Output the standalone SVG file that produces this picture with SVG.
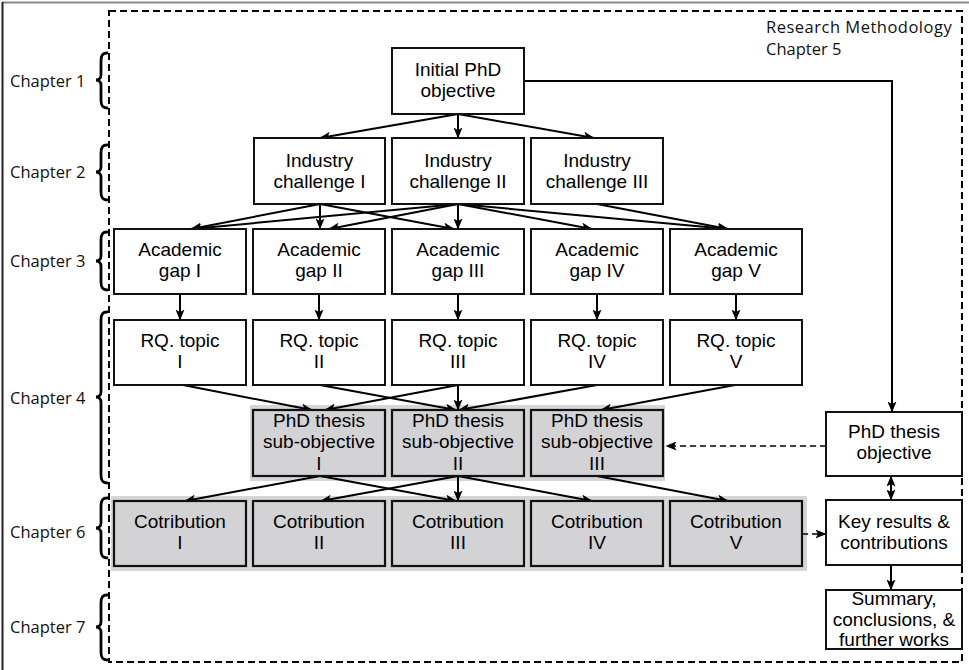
<svg xmlns="http://www.w3.org/2000/svg" width="969" height="670" viewBox="0 0 969 670">
  <defs>
    <marker id="arrow" viewBox="0 0 11 9" markerWidth="11" markerHeight="9" refX="10.5" refY="4.5" orient="auto-start-reverse" markerUnits="userSpaceOnUse">
      <path d="M0,0 L11,4.5 L0,9 L2.5,4.5 z" fill="#000"/>
    </marker>
    <style>
      .box { fill: #fff; stroke: #111; stroke-width: 2; }
      .grey { fill: #d3d3d5; stroke: #111; stroke-width: 2.2; }
      .band { fill: #d6d6d6; stroke: none; }
      .lbl { font-family: "Liberation Sans", Arial, sans-serif; font-size: 19px; fill: #000; text-anchor: middle; }
      .chap { font-family: "Open Sans", "Noto Sans", sans-serif; font-size: 16.5px; fill: #111; }
      .brace { fill: none; stroke: #000; stroke-width: 2.8; stroke-linecap: round; }
      .conn { fill: none; stroke: #000; stroke-width: 2; marker-end: url(#arrow); }
      .dash { fill: none; stroke: #000; stroke-width: 1.6; stroke-dasharray: 6 4; marker-end: url(#arrow); }
      .frame { fill: none; stroke: #000; stroke-width: 2; stroke-dasharray: 7 4; }
    </style>
  </defs>

  <!-- page edge -->
  <line x1="2" y1="2.5" x2="969" y2="2.5" stroke="#8a8a8a" stroke-width="2"/>
  <line x1="2.5" y1="2" x2="2.5" y2="670" stroke="#222" stroke-width="2"/>

  <!-- research methodology frame -->
  <rect class="frame" x="109" y="11" width="853" height="651"/>
  <text class="chap" x="766" y="33" letter-spacing="0.5">Research Methodology</text>
  <text class="chap" x="766" y="55">Chapter 5</text>

  <!-- chapter labels and braces -->
  <g id="chapters">
    <text class="chap" x="10" y="87">Chapter 1</text>
    <path class="brace" d="M107,53 C102,53 101,56 101,61 L101,75 C101,78 99,80 96,80 C99,80 101,82 101,85 L101,100 C101,105 102,108 107,108"/>
    <text class="chap" x="10" y="178">Chapter 2</text>
    <path class="brace" d="M107,145 C102,145 101,148 101,153 L101,167 C101,170 99,172 96,172 C99,172 101,174 101,177 L101,192 C101,197 102,200 107,200"/>
    <text class="chap" x="10" y="267">Chapter 3</text>
    <path class="brace" d="M107,232 C102,232 101,235 101,240 L101,256 C101,259 99,261 96,261 C99,261 101,263 101,266 L101,282 C101,287 102,290 107,290"/>
    <text class="chap" x="10" y="404">Chapter 4</text>
    <path class="brace" d="M107,312 C102,312 101,315 101,320 L101,392 C101,395 99,397 96,397 C99,397 101,399 101,402 L101,475 C101,480 102,483 107,483"/>
    <text class="chap" x="10" y="538">Chapter 6</text>
    <path class="brace" d="M107,498 C102,498 101,501 101,506 L101,523 C101,526 99,528 96,528 C99,528 101,530 101,533 L101,550 C101,555 102,558 107,558"/>
    <text class="chap" x="10" y="633">Chapter 7</text>
    <path class="brace" d="M107,595 C102,595 101,598 101,603 L101,622 C101,625 99,627 96,627 C99,627 101,629 101,632 L101,652 C101,657 102,660 107,660"/>
  </g>

  <!-- grey bands behind sub-objectives and contributions -->
  <rect class="band" x="250" y="405" width="415" height="76"/>
  <rect class="band" x="111" y="496" width="696" height="75"/>

  <!-- connectors -->
  <g id="connectors">
    <!-- initial objective to industry challenges -->
    <line class="conn" x1="458" y1="114" x2="320" y2="138"/>
    <line class="conn" x1="458" y1="114" x2="458" y2="138"/>
    <line class="conn" x1="458" y1="114" x2="594" y2="138"/>
    <polyline class="conn" points="524,81 892,81 892,412"/>
    <!-- industry challenges to academic gaps -->
    <line class="conn" x1="320" y1="204" x2="191" y2="229"/>
    <line class="conn" x1="320" y1="204" x2="320" y2="229"/>
    <line class="conn" x1="320" y1="204" x2="454" y2="229"/>
    <line class="conn" x1="458" y1="204" x2="191" y2="229"/>
    <line class="conn" x1="458" y1="204" x2="329" y2="229"/>
    <line class="conn" x1="458" y1="204" x2="458" y2="229"/>
    <line class="conn" x1="458" y1="204" x2="592" y2="229"/>
    <line class="conn" x1="458" y1="204" x2="728" y2="229"/>
    <line class="conn" x1="597" y1="204" x2="728" y2="229"/>
    <!-- academic gaps to research question topics -->
    <line class="conn" x1="180" y1="294" x2="180" y2="320"/>
    <line class="conn" x1="319" y1="294" x2="319" y2="320"/>
    <line class="conn" x1="458" y1="294" x2="458" y2="320"/>
    <line class="conn" x1="597" y1="294" x2="597" y2="320"/>
    <line class="conn" x1="736" y1="294" x2="736" y2="320"/>
    <!-- research question topics to sub-objectives -->
    <line class="conn" x1="183" y1="385" x2="312" y2="410"/>
    <line class="conn" x1="320" y1="385" x2="456" y2="410"/>
    <line class="conn" x1="458" y1="385" x2="325" y2="410"/>
    <line class="conn" x1="458" y1="385" x2="458" y2="410"/>
    <line class="conn" x1="597" y1="385" x2="459" y2="410"/>
    <line class="conn" x1="735" y1="385" x2="601" y2="410"/>
    <!-- sub-objectives to contributions -->
    <line class="conn" x1="320" y1="476" x2="185" y2="501"/>
    <line class="conn" x1="320" y1="476" x2="456" y2="501"/>
    <line class="conn" x1="458" y1="476" x2="321" y2="501"/>
    <line class="conn" x1="458" y1="476" x2="458" y2="501"/>
    <line class="conn" x1="458" y1="476" x2="592" y2="501"/>
    <line class="conn" x1="597" y1="476" x2="728" y2="501"/>
    <!-- right column -->
    <line class="dash" x1="826" y1="446" x2="666" y2="446"/>
    <line class="dash" x1="802" y1="534" x2="826" y2="534"/>
    <line class="conn" x1="891" y1="476" x2="891" y2="500" marker-start="url(#arrow)"/>
    <line class="conn" x1="891" y1="565" x2="891" y2="590"/>
  </g>

  <!-- nodes -->
  <g id="initial-objective">
    <rect class="box" x="392" y="48" width="132" height="66"/>
    <text class="lbl" x="458" y="76">Initial PhD</text>
    <text class="lbl" x="458" y="97">objective</text>
  </g>

  <g id="challenge-1">
    <rect class="box" x="254" y="138" width="131" height="66"/>
    <text class="lbl" x="319.5" y="167">Industry</text>
    <text class="lbl" x="319.5" y="188">challenge I</text>
  </g>
  <g id="challenge-2">
    <rect class="box" x="392" y="138" width="132" height="66"/>
    <text class="lbl" x="458" y="167">Industry</text>
    <text class="lbl" x="458" y="188">challenge II</text>
  </g>
  <g id="challenge-3">
    <rect class="box" x="531" y="138" width="132" height="66"/>
    <text class="lbl" x="597" y="167">Industry</text>
    <text class="lbl" x="597" y="188">challenge III</text>
  </g>

  <g id="gap-1">
    <rect class="box" x="114" y="229" width="132" height="65"/>
    <text class="lbl" x="180" y="256">Academic</text>
    <text class="lbl" x="180" y="277">gap I</text>
  </g>
  <g id="gap-2">
    <rect class="box" x="253" y="229" width="132" height="65"/>
    <text class="lbl" x="319" y="256">Academic</text>
    <text class="lbl" x="319" y="277">gap II</text>
  </g>
  <g id="gap-3">
    <rect class="box" x="392" y="229" width="132" height="65"/>
    <text class="lbl" x="458" y="256">Academic</text>
    <text class="lbl" x="458" y="277">gap III</text>
  </g>
  <g id="gap-4">
    <rect class="box" x="531" y="229" width="132" height="65"/>
    <text class="lbl" x="597" y="256">Academic</text>
    <text class="lbl" x="597" y="277">gap IV</text>
  </g>
  <g id="gap-5">
    <rect class="box" x="670" y="229" width="132" height="65"/>
    <text class="lbl" x="736" y="256">Academic</text>
    <text class="lbl" x="736" y="277">gap V</text>
  </g>

  <g id="rq-1">
    <rect class="box" x="114" y="320" width="132" height="65"/>
    <text class="lbl" x="180" y="347">RQ. topic</text>
    <text class="lbl" x="180" y="368">I</text>
  </g>
  <g id="rq-2">
    <rect class="box" x="253" y="320" width="132" height="65"/>
    <text class="lbl" x="319" y="347">RQ. topic</text>
    <text class="lbl" x="319" y="368">II</text>
  </g>
  <g id="rq-3">
    <rect class="box" x="392" y="320" width="132" height="65"/>
    <text class="lbl" x="458" y="347">RQ. topic</text>
    <text class="lbl" x="458" y="368">III</text>
  </g>
  <g id="rq-4">
    <rect class="box" x="531" y="320" width="132" height="65"/>
    <text class="lbl" x="597" y="347">RQ. topic</text>
    <text class="lbl" x="597" y="368">IV</text>
  </g>
  <g id="rq-5">
    <rect class="box" x="670" y="320" width="132" height="65"/>
    <text class="lbl" x="736" y="347">RQ. topic</text>
    <text class="lbl" x="736" y="368">V</text>
  </g>

  <g id="sub-objective-1">
    <rect class="grey" x="253" y="410" width="132" height="66"/>
    <text class="lbl" x="319" y="427">PhD thesis</text>
    <text class="lbl" x="319" y="448">sub-objective</text>
    <text class="lbl" x="319" y="470">I</text>
  </g>
  <g id="sub-objective-2">
    <rect class="grey" x="392" y="410" width="132" height="66"/>
    <text class="lbl" x="458" y="427">PhD thesis</text>
    <text class="lbl" x="458" y="448">sub-objective</text>
    <text class="lbl" x="458" y="470">II</text>
  </g>
  <g id="sub-objective-3">
    <rect class="grey" x="531" y="410" width="132" height="66"/>
    <text class="lbl" x="597" y="427">PhD thesis</text>
    <text class="lbl" x="597" y="448">sub-objective</text>
    <text class="lbl" x="597" y="470">III</text>
  </g>

  <g id="contribution-1">
    <rect class="grey" x="114" y="501" width="132" height="65"/>
    <text class="lbl" x="180" y="528">Cotribution</text>
    <text class="lbl" x="180" y="549">I</text>
  </g>
  <g id="contribution-2">
    <rect class="grey" x="253" y="501" width="132" height="65"/>
    <text class="lbl" x="319" y="528">Cotribution</text>
    <text class="lbl" x="319" y="549">II</text>
  </g>
  <g id="contribution-3">
    <rect class="grey" x="392" y="501" width="132" height="65"/>
    <text class="lbl" x="458" y="528">Cotribution</text>
    <text class="lbl" x="458" y="549">III</text>
  </g>
  <g id="contribution-4">
    <rect class="grey" x="531" y="501" width="132" height="65"/>
    <text class="lbl" x="597" y="528">Cotribution</text>
    <text class="lbl" x="597" y="549">IV</text>
  </g>
  <g id="contribution-5">
    <rect class="grey" x="670" y="501" width="132" height="65"/>
    <text class="lbl" x="736" y="528">Cotribution</text>
    <text class="lbl" x="736" y="549">V</text>
  </g>

  <g id="thesis-objective">
    <rect class="box" x="826" y="412" width="136" height="64"/>
    <text class="lbl" x="894" y="438">PhD thesis</text>
    <text class="lbl" x="894" y="459">objective</text>
  </g>
  <g id="key-results">
    <rect class="box" x="826" y="500" width="136" height="65"/>
    <text class="lbl" x="894" y="528">Key results &amp;</text>
    <text class="lbl" x="894" y="549">contributions</text>
  </g>
  <g id="summary">
    <rect class="box" x="826" y="590" width="136" height="59"/>
    <text class="lbl" x="894" y="605">Summary,</text>
    <text class="lbl" x="894" y="626">conclusions, &amp;</text>
    <text class="lbl" x="894" y="646">further works</text>
  </g>
</svg>
